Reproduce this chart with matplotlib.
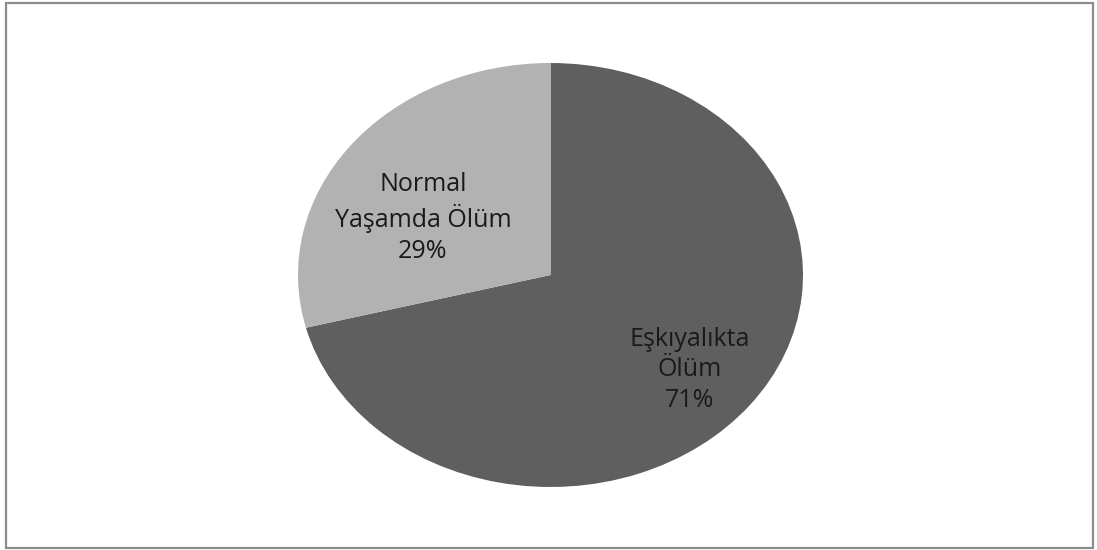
import matplotlib.pyplot as plt
from matplotlib.patches import Rectangle

# data
labels = ["Eşkıyalıkta\nÖlüm", "Normal\nYaşamda Ölüm"]
shares = [71, 29]
colors = ["#5f5f5f", "#b2b2b2"]

W, H = 1097, 550
fig = plt.figure(figsize=(W / 100, H / 100), dpi=100)
fig.patch.set_facecolor("white")

# outer frame of the chart area
fig.patches.append(Rectangle((6 / W, 2 / H), 1087 / W, 545 / H, transform=fig.transFigure,
                             fill=False, edgecolor="#8c8c8c", linewidth=1.6))

# axes placed so that the unit pie becomes the ellipse of the original
x0, x1, y0, y1 = 298, 803, 63, 487
ax = fig.add_axes([x0 / W, (H - y1) / H, (x1 - x0) / W, (y1 - y0) / H])

wedges, _ = ax.pie(shares, colors=colors, startangle=90, counterclock=False,
                   wedgeprops=dict(linewidth=0))
ax.set_aspect("auto")
ax.set_xlim(-1, 1)
ax.set_ylim(-1, 1)
ax.axis("off")

label_pos = [(0.552, -0.448), (-0.505, 0.269)]
for (lx, ly), lab, val in zip(label_pos, labels, shares):
    ax.text(lx, ly, f"{lab}\n{val}%", ha="center", va="center", fontsize=18,
            family="Open Sans", color="#1a1a1a", linespacing=1.3)

fig.savefig("out.png", dpi=100)
